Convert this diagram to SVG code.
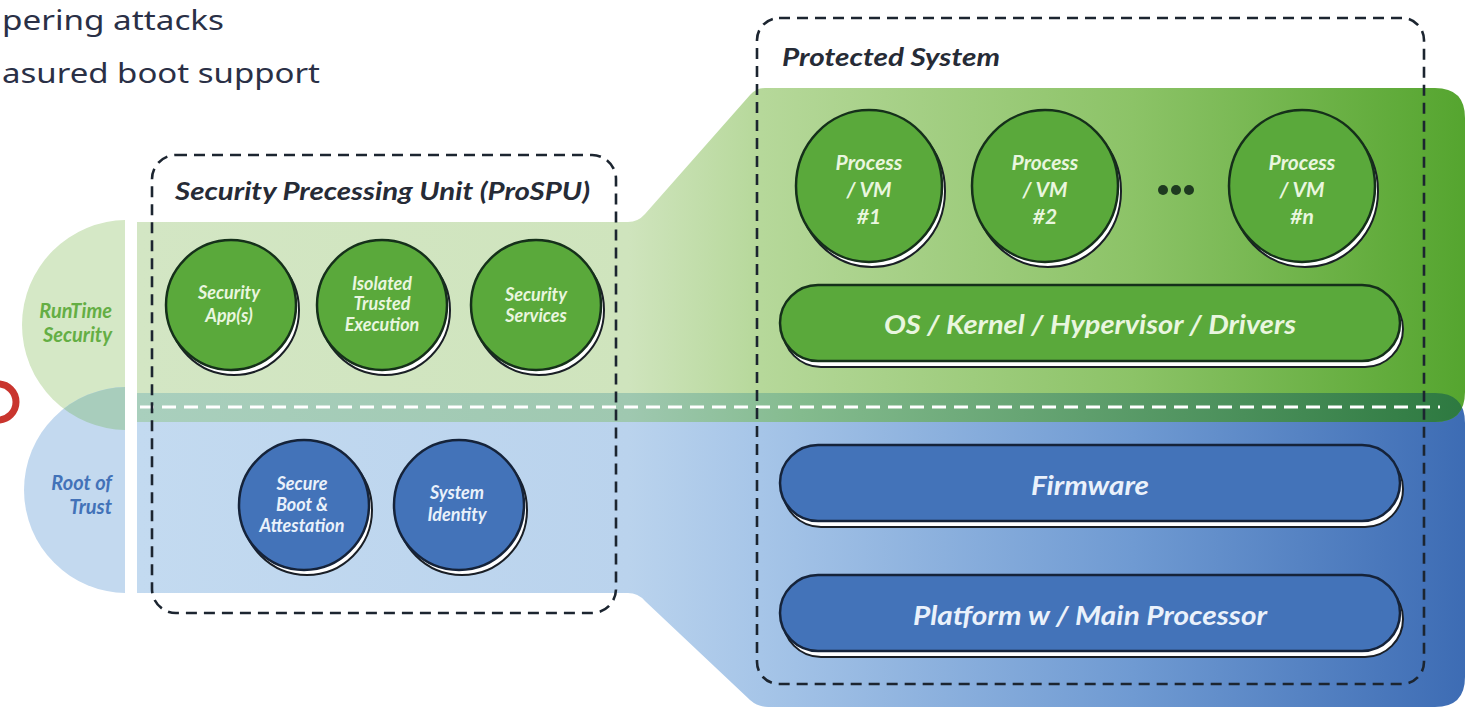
<svg xmlns="http://www.w3.org/2000/svg" width="1471" height="712" viewBox="0 0 1471 712">
<defs>
<linearGradient id="gGreen" gradientUnits="userSpaceOnUse" x1="137" y1="0" x2="1465" y2="0">
<stop offset="0" stop-color="#d3e6c4"/><stop offset="0.37" stop-color="#cfe4bd"/><stop offset="0.47" stop-color="#b6d89a"/><stop offset="0.75" stop-color="#8cc367"/><stop offset="1" stop-color="#55a52f"/>
</linearGradient>
<linearGradient id="gBlue" gradientUnits="userSpaceOnUse" x1="137" y1="0" x2="1465" y2="0">
<stop offset="0" stop-color="#c3daf0"/><stop offset="0.37" stop-color="#bad3ed"/><stop offset="0.47" stop-color="#a6c5e8"/><stop offset="0.75" stop-color="#6f9ad2"/><stop offset="1" stop-color="#3d6cb4"/>
</linearGradient>
<linearGradient id="gOver" gradientUnits="userSpaceOnUse" x1="137" y1="0" x2="1465" y2="0">
<stop offset="0" stop-color="#a9cfbd"/><stop offset="0.37" stop-color="#9fc8b0"/><stop offset="0.5" stop-color="#84bb8e"/><stop offset="1" stop-color="#2d7940"/>
</linearGradient>
<path id="greenShape" d="M137,222 L628,222 Q638,222 645,214 L750,95 Q756,88 765,88 L1435,88 Q1465,88 1465,118 L1465,392 Q1465,422 1435,422 L137,422 Z"/>
<path id="blueShape" d="M137,393 L1435,393 Q1465,393 1465,423 L1465,677 Q1465,707 1435,707 L768,707 Q758,707 750,700 L645,601 Q638,593 628,593 L137,593 Z"/>
<clipPath id="clipGreen"><use href="#greenShape"/></clipPath>
<clipPath id="clipLeft"><rect x="0" y="0" width="125" height="712"/></clipPath>
<clipPath id="clipLeftGreen"><circle cx="127" cy="325" r="105"/></clipPath>
<style>
.gc{fill:#5aa93b;stroke:#15301a;stroke-width:2.5}
.bc{fill:#4373b9;stroke:#15233a;stroke-width:2.5}
.sh{fill:#ffffff;stroke:#1a1f26;stroke-width:2}
.t{font-family:Lato,"Open Sans","Liberation Sans",sans-serif;font-style:italic;font-weight:700;text-anchor:middle}
.gt{fill:#e9f6df}
.bt{fill:#eaf1fb}
.title{font-family:Lato,"Open Sans","Liberation Sans",sans-serif;font-style:italic;font-weight:700;fill:#262b36}
.dash{fill:none;stroke:#1c2530;stroke-width:2.6;stroke-dasharray:11 7}
.side{font-family:Lato,"Open Sans","Liberation Sans",sans-serif;font-style:italic;font-weight:700;font-size:20px;text-anchor:end}
</style>
</defs>
<rect x="0" y="0" width="1471" height="712" fill="#ffffff"/>

<g id="intro-text" font-family="'Noto Sans','Open Sans',sans-serif" font-size="28" fill="#2a3046">
<text x="2" y="30" textLength="222" lengthAdjust="spacingAndGlyphs">pering attacks</text>
<text x="2" y="83" textLength="318" lengthAdjust="spacingAndGlyphs">asured boot support</text>
</g>

<g id="red-ring"><circle cx="-2" cy="402" r="18" fill="none" stroke="#c9352e" stroke-width="7"/></g>

<g id="side-labels">
<g clip-path="url(#clipLeft)">
<circle cx="127" cy="325" r="105" fill="#d5e8c6"/>
<circle cx="127" cy="490" r="103" fill="#c3d9ef"/>
<circle cx="127" cy="490" r="103" fill="#a8cdbc" clip-path="url(#clipLeftGreen)"/>
</g>
<text class="side" x="112" y="318" fill="#64ae44">RunTime</text>
<text class="side" x="112" y="342" fill="#64ae44">Security</text>
<text class="side" x="112" y="490" fill="#4272b8">Root of</text>
<text class="side" x="112" y="514" fill="#4272b8">Trust</text>
</g>

<g id="layers">
<use href="#blueShape" fill="url(#gBlue)"/>
<use href="#greenShape" fill="url(#gGreen)"/>
<use href="#blueShape" fill="url(#gOver)" clip-path="url(#clipGreen)"/>
<line x1="140" y1="407" x2="1440" y2="407" stroke="#ffffff" stroke-width="3" stroke-dasharray="14 8"/>
</g>

<g id="spu">
<rect class="dash" x="152" y="155" width="464" height="458" rx="24"/>
<text class="title" x="175" y="200" font-size="24" textLength="415" lengthAdjust="spacingAndGlyphs">Security Precessing Unit (ProSPU)</text>
</g>

<g id="node-security-apps">
<circle class="sh" cx="234" cy="310" r="65"/>
<circle class="gc" cx="231" cy="305" r="65"/>
<text class="t gt" font-size="18" x="229" y="299">Security</text>
<text class="t gt" font-size="18" x="229" y="322">App(s)</text>
</g>
<g id="node-isolated-trusted-execution">
<circle class="sh" cx="385" cy="310" r="65"/>
<circle class="gc" cx="382" cy="305" r="65"/>
<text class="t gt" font-size="18" x="382" y="290">Isolated</text>
<text class="t gt" font-size="18" x="382" y="310">Trusted</text>
<text class="t gt" font-size="18" x="382" y="331">Execution</text>
</g>
<g id="node-security-services">
<circle class="sh" cx="539" cy="310" r="65"/>
<circle class="gc" cx="536" cy="305" r="65"/>
<text class="t gt" font-size="18" x="536" y="301">Security</text>
<text class="t gt" font-size="18" x="536" y="322">Services</text>
</g>
<g id="node-secure-boot">
<circle class="sh" cx="307" cy="510" r="65"/>
<circle class="bc" cx="304" cy="505" r="65"/>
<text class="t bt" font-size="18" x="302" y="490">Secure</text>
<text class="t bt" font-size="18" x="302" y="511">Boot &amp;</text>
<text class="t bt" font-size="18" x="302" y="532">Attestation</text>
</g>
<g id="node-system-identity">
<circle class="sh" cx="462" cy="510" r="65"/>
<circle class="bc" cx="459" cy="505" r="65"/>
<text class="t bt" font-size="18" x="457" y="499">System</text>
<text class="t bt" font-size="18" x="457" y="521">Identity</text>
</g>

<g id="protected-system">
<text class="title" x="782" y="66" font-size="25" textLength="218" lengthAdjust="spacingAndGlyphs">Protected System</text>
</g>

<g id="node-process-1">
<ellipse class="sh" cx="872" cy="191" rx="73" ry="76"/>
<ellipse class="gc" cx="869" cy="186" rx="73" ry="76"/>
<text class="t gt" font-size="21" x="869" y="170">Process</text>
<text class="t gt" font-size="21" x="869" y="197">/ VM</text>
<text class="t gt" font-size="21" x="869" y="224">#1</text>
</g>
<g id="node-process-2">
<ellipse class="sh" cx="1048" cy="191" rx="73" ry="76"/>
<ellipse class="gc" cx="1045" cy="186" rx="73" ry="76"/>
<text class="t gt" font-size="21" x="1045" y="170">Process</text>
<text class="t gt" font-size="21" x="1045" y="197">/ VM</text>
<text class="t gt" font-size="21" x="1045" y="224">#2</text>
</g>
<g id="ellipsis" fill="#1f3a20">
<circle cx="1163" cy="190" r="5"/><circle cx="1176" cy="190" r="5"/><circle cx="1189" cy="190" r="5"/>
</g>
<g id="node-process-n">
<ellipse class="sh" cx="1305" cy="191" rx="73" ry="76"/>
<ellipse class="gc" cx="1302" cy="186" rx="73" ry="76"/>
<text class="t gt" font-size="21" x="1302" y="170">Process</text>
<text class="t gt" font-size="21" x="1302" y="197">/ VM</text>
<text class="t gt" font-size="21" x="1302" y="224">#n</text>
</g>
<g id="node-os-kernel">
<rect class="sh" x="783" y="291" width="620" height="76" rx="38"/>
<rect class="gc" x="780" y="285" width="620" height="76" rx="38"/>
<text class="t gt" font-size="26" x="1090" y="334" textLength="412" lengthAdjust="spacingAndGlyphs">OS / Kernel / Hypervisor / Drivers</text>
</g>
<g id="node-firmware">
<rect class="sh" x="783" y="451" width="620" height="76" rx="38"/>
<rect class="bc" x="780" y="445" width="620" height="76" rx="38"/>
<text class="t bt" font-size="26" x="1090" y="495" textLength="118" lengthAdjust="spacingAndGlyphs">Firmware</text>
</g>
<g id="node-platform">
<rect class="sh" x="783" y="581" width="620" height="76" rx="38"/>
<rect class="bc" x="780" y="575" width="620" height="76" rx="38"/>
<text class="t bt" font-size="26" x="1090" y="625" textLength="354" lengthAdjust="spacingAndGlyphs">Platform w / Main Processor</text>
</g>

<g id="protected-frame">
<rect class="dash" x="757" y="18" width="667" height="666" rx="22"/>
</g>

<g id="connectors"></g>
</svg>
